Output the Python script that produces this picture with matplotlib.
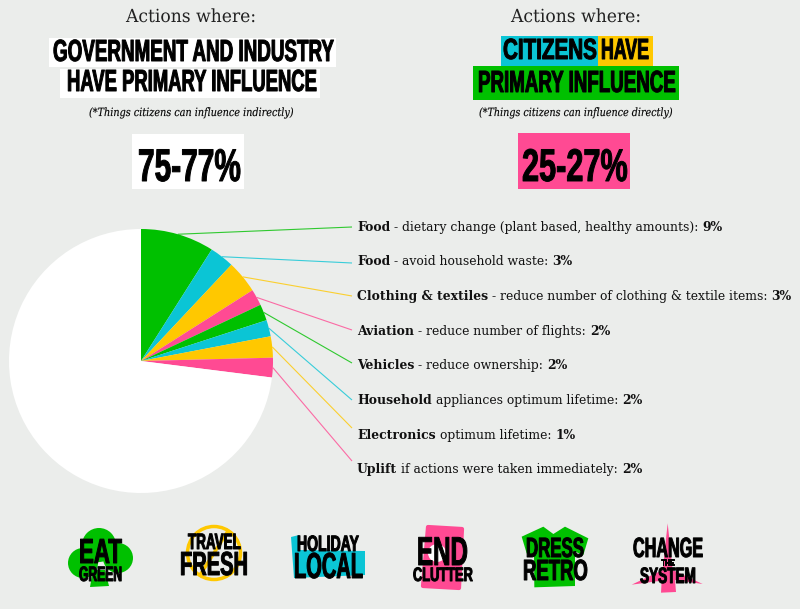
import numpy as np
import matplotlib
matplotlib.use("Agg")
import matplotlib.pyplot as plt
from matplotlib.patches import Rectangle, Polygon, Circle
from matplotlib.patheffects import AbstractPathEffect
from matplotlib.transforms import Affine2D

BG = "#ebedeb"
GREEN = "#00c000"
CYAN = "#0bc5d5"
YELLOW = "#ffc800"
PINK = "#ff4a93"
SERIF = "DejaVu Serif"
HEAVY = "Liberation Sans"

# wedge sizes as drawn in the pie (the last two are drawn a bit wider than labelled)
wedge_values = [9, 3, 4, 2, 2, 2, 2.6, 2.4]
rest_value = 73
wedge_colors = [GREEN, CYAN, YELLOW, PINK, GREEN, CYAN, YELLOW, PINK]
label_heads = ["Food", "Food", "Clothing & textiles", "Aviation", "Vehicles",
               "Household", "Electronics", "Uplift"]
label_texts = ["- dietary change (plant based, healthy amounts):",
               "- avoid household waste:",
               "- reduce number of clothing & textile items:",
               "- reduce number of flights:",
               "- reduce ownership:",
               "appliances optimum lifetime:",
               "optimum lifetime:",
               "if actions were taken immediately:"]
label_values = ["9%", "3%", "3%", "2%", "2%", "2%", "1%", "2%"]
label_y = [231, 265, 300, 335, 369, 404, 439, 473]
leader_end_y = [227, 263, 296, 330, 363, 400, 428, 461]

# text, left, right, baseline, cap height
headline_rows = [
    ("GOVERNMENT AND INDUSTRY", 53, 333, 61, 22),
    ("HAVE PRIMARY INFLUENCE", 67, 316, 91, 22),
    ("75-77%", 138, 241, 181, 33),
    ("CITIZENS", 503, 597, 59, 21),
    ("HAVE", 601, 649, 59, 21),
    ("PRIMARY INFLUENCE", 478, 675, 92, 22),
    ("25-27%", 522, 628, 181, 33),
]
badge_rows = [
    ("EAT", 79, 122, 563, 25), ("GREEN", 79, 122, 581, 15),
    ("TRAVEL", 188, 241, 549, 16), ("FRESH", 180, 248, 575, 24),
    ("HOLIDAY", 297, 359, 551, 16), ("LOCAL", 294, 363, 578, 26),
    ("END", 417, 468, 565, 29), ("CLUTTER", 413, 473, 581, 14),
    ("DRESS", 526, 584, 557, 20), ("RETRO", 523, 588, 580, 21),
    ("CHANGE", 633, 703, 557, 20), ("THE", 661, 674, 565, 6),
    ("SYSTEM", 640, 696, 583, 16),
]
shirt_x = [425, 490, 520, 555, 625, 610, 585, 585, 463, 462, 440]
shirt_y = [80, 50, 72, 50, 85, 135, 125, 228, 232, 140, 130]
star_x = [863, 878, 968, 885, 888, 843, 845, 755, 848]
star_y = [40, 180, 222, 210, 246, 248, 212, 224, 180]


class Squeeze(AbstractPathEffect):
    """Narrow a text horizontally around x0, the real font has no condensed cut."""
    def __init__(self, x0, sx, lw=0.0):
        super().__init__()
        self.x0, self.sx, self.lw = x0, sx, lw

    def draw_path(self, renderer, gc, tpath, affine, rgbFace=None):
        t = affine + Affine2D().translate(-self.x0, 0).scale(self.sx, 1).translate(self.x0, 0)
        gc0 = renderer.new_gc()
        gc0.copy_properties(gc)
        gc0.set_linewidth(self.lw)
        gc0.set_foreground(rgbFace[:3])
        renderer.draw_path(gc0, tpath, t, rgbFace)
        gc0.restore()


fig = plt.figure(figsize=(8, 6.09), dpi=100, facecolor=BG)
ax = fig.add_axes([0, 0, 1, 1])
ax.set_xlim(0, 800)
ax.set_ylim(609, 0)
ax.axis("off")
renderer = fig.canvas.get_renderer()


def fit_text(s, x0, x1, base, size, color="black", lw=0.0, zorder=5, **font):
    t = ax.text(x0, base, s, ha="left", va="baseline", fontsize=size, color=color,
                zorder=zorder, **font)
    w = t.get_window_extent(renderer).width
    t.set_path_effects([Squeeze(x0, (x1 - x0) / w, lw)])
    return t


def seg_text(s, x, base, size, **font):
    t = ax.text(x, base, s, ha="left", va="baseline", fontsize=size, color="#111111",
                zorder=5, **font)
    return x + t.get_window_extent(renderer).width


def box(x0, x1, y0, y1, color):
    ax.add_patch(Rectangle((x0, y0), x1 - x0, y1 - y0, fc=color, ec="none", zorder=1))


# header boxes
box(49, 336, 38, 67, "white")
box(60, 320, 69, 98, "white")
box(132, 244, 134, 189, "white")
box(501, 598, 36, 66, CYAN)
box(598, 653, 36, 66, YELLOW)
box(473, 679, 66, 100, GREEN)
box(518, 630, 133, 189, PINK)

fit_text("Actions where:", 126, 256, 22, 13, color="#222222", family=SERIF)
fit_text("Actions where:", 511, 641, 22, 13, color="#222222", family=SERIF)
fit_text("(*Things citizens can influence indirectly)", 89, 294, 116, 8.2, lw=0.1,
         family=SERIF, style="italic")
fit_text("(*Things citizens can influence directly)", 479, 673, 116, 8.2, lw=0.1,
         family=SERIF, style="italic")

for s, x0, x1, base, cap in headline_rows:
    fit_text(s, x0, x1, base, cap, lw=0.7, family=HEAVY, weight="bold")

# pie
cx, cy, r = 141, 361, 132
pie_ax = fig.add_axes([(cx - r) / 800, (609 - cy - r) / 609, 2 * r / 800, 2 * r / 609])
pie_ax.pie(wedge_values + [rest_value], colors=wedge_colors + ["white"],
           startangle=90, counterclock=False, radius=1)
pie_ax.set_xlim(-1, 1)
pie_ax.set_ylim(-1, 1)
pie_ax.patch.set_alpha(0)

# leader lines from the middle of each wedge, then the labels
edges = np.cumsum([0] + wedge_values) / (sum(wedge_values) + rest_value) * 2 * np.pi
mids = (edges[:-1] + edges[1:]) / 2
for i, mid in enumerate(mids):
    ax.plot([cx + r * np.sin(mid), 352], [cy - r * np.cos(mid), leader_end_y[i]],
            color=wedge_colors[i], lw=0.8, alpha=0.8, solid_capstyle="butt", zorder=2)

    x = seg_text(label_heads[i], 357, label_y[i], 8.9, family=SERIF, weight="bold")
    x = seg_text(label_texts[i], x + 4, label_y[i], 8.9, family=SERIF)
    seg_text(label_values[i], x + 4, label_y[i], 8.9, family=SERIF, weight="bold")

# badges along the bottom
for (bx, by, br) in [(99, 545, 17), (83, 563, 15), (118, 558, 15)]:
    ax.add_patch(Circle((bx, by), br, fc=GREEN, ec="none", zorder=2))
ax.add_patch(Polygon([(90, 587), (109, 586), (105, 570), (93, 570)], fc=GREEN, ec="none", zorder=2))

ax.add_patch(Circle((214, 553), 26.5, fc="none", ec=YELLOW, lw=2.5, zorder=2))
ax.plot([200, 228], [575, 531], color=YELLOW, lw=2.5, zorder=2)

ax.add_patch(Polygon([(291, 537), (299, 535), (299, 550), (365, 551), (365, 575), (294, 578)],
                     fc=CYAN, ec="none", zorder=2))

ax.add_patch(Polygon([(428, 527), (462, 529), (459, 588), (423, 586)], fc=PINK, ec=PINK,
                     lw=3, joinstyle="round", zorder=2))
ax.add_patch(Circle((437, 553), 9, fc="white", ec="none", zorder=2))

ax.add_patch(Polygon(np.column_stack([380 + np.array(shirt_x) / 3, 510 + np.array(shirt_y) / 3]),
                     fc=GREEN, ec="none", zorder=2))
ax.add_patch(Polygon(np.column_stack([380 + np.array(star_x) / 3, 510 + np.array(star_y) / 3]),
                     fc=PINK, ec="none", zorder=2))

for s, x0, x1, base, cap in badge_rows:
    fit_text(s, x0, x1, base, cap, lw=0.7, family=HEAVY, weight="bold")

fig.savefig("out.png", dpi=100, facecolor=BG)
